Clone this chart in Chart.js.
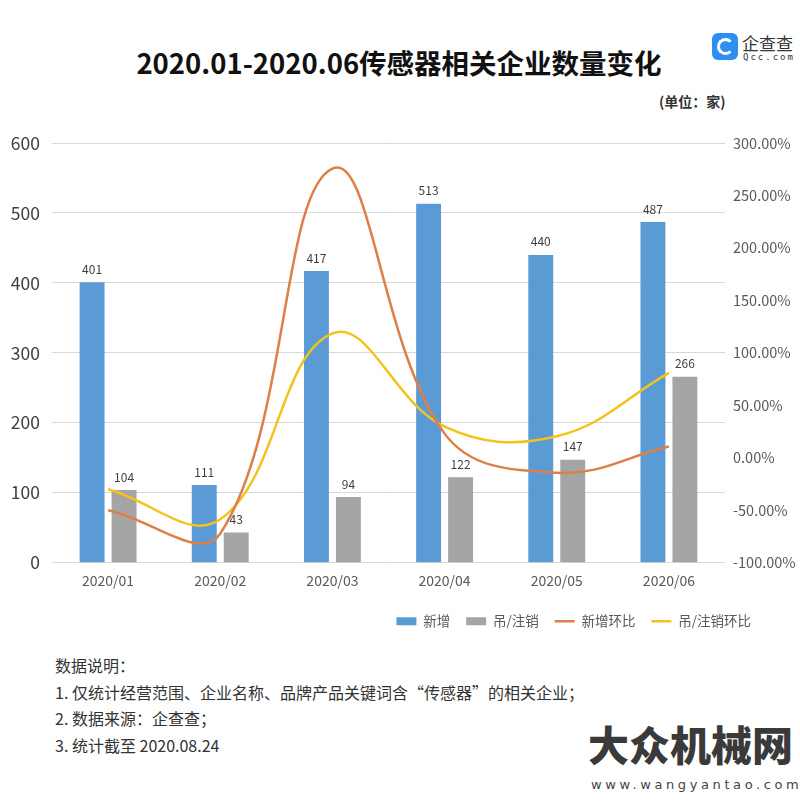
<!DOCTYPE html>
<html>
<head>
<meta charset="utf-8">
<script src="https://cdn.jsdelivr.net/npm/chart.js@4"></script>
<style>
  body { margin: 0; background: #fff; font-family: "Noto Sans CJK SC", "Noto Sans", sans-serif; }
  #page { position: relative; width: 800px; height: 804px; overflow: hidden; background: #fff; }
  #title { position: absolute; top: 44px; left: 0; width: 798px; text-align: center;
           font-size: 27.5px; font-weight: 700; color: #111; line-height: 36px; }
  #unit { position: absolute; top: 91px; left: 659px; font-size: 14px; font-weight: 700; color: #333; }
  #logo { position: absolute; top: 33px; left: 712px; }
  #logo .icon { position: absolute; left: 0; top: 0; width: 26px; height: 27px; border-radius: 6px; background: #2f8ff0; }
  #logo .ring { position: absolute; left: 5px; top: 5px; width: 11px; height: 11px; border-radius: 50%;
                border: 3px solid #fff; border-right-color: transparent; }
  #logo .cn { position: absolute; left: 30px; top: -3px; font-size: 17px; color: #333; white-space: nowrap; }
  #logo .en { position: absolute; left: 31px; top: 19px; font-size: 9px; color: #333; letter-spacing: 2px; font-family: "DejaVu Sans Mono", monospace; }
  #chartBox { position: absolute; left: 0; top: 120px; width: 800px; height: 522px; }
  #notes { position: absolute; left: 55px; top: 652px; font-size: 16px; line-height: 26.7px; color: #333; }
  #mark { position: absolute; left: 588px; top: 718px; font-size: 41px; font-weight: 900; color: #3a3a3a; line-height: 50px; white-space: nowrap; }
  #site { position: absolute; left: 591px; top: 777px; font-size: 13px; color: #444; letter-spacing: 3.6px; font-family: "DejaVu Sans", sans-serif; }
</style>
</head>
<body>
<div id="page">
  <div id="title">2020.01-2020.06传感器相关企业数量变化</div>
  <div id="logo"><div class="icon"><div class="ring"></div></div><div class="cn">企查查</div><div class="en">Qcc.com</div></div>
  <div id="unit">(单位：家)</div>
  <div id="chartBox"><canvas id="chartQty"></canvas></div>
  <div id="notes">
    数据说明：<br>
    1. 仅统计经营范围、企业名称、品牌产品关键词含“传感器”的相关企业；<br>
    2. 数据来源：企查查；<br>
    3. 统计截至 2020.08.24
  </div>
  <div id="mark">大众机械网</div>
  <div id="site">www.wangyantao.com</div>
</div>

<script>
const MONTHS = ['2020/01', '2020/02', '2020/03', '2020/04', '2020/05', '2020/06'];
const NEW_COUNT = [401, 111, 417, 513, 440, 487];
const CANCEL_COUNT = [104, 43, 94, 122, 147, 266];
const NEW_RATE = [-50, -72.32, 275.68, 23.02, -14.23, 10.68];
const CANCEL_RATE = [-30, -58.65, 118.6, 29.79, 20.49, 80.95];

const FONT = '"Noto Sans CJK SC", "Noto Sans", sans-serif';

// value labels above the bars
const barLabels = {
  id: 'barLabels',
  afterDatasetsDraw(chart) {
    const ctx = chart.ctx;
    ctx.save();
    ctx.font = '12px ' + FONT;
    ctx.fillStyle = '#404040';
    ctx.textAlign = 'center';
    ctx.textBaseline = 'middle';
    chart.data.datasets.forEach((ds, i) => {
      if (ds.type !== 'bar') return;
      chart.getDatasetMeta(i).data.forEach((bar, j) => {
        ctx.fillText(ds.data[j], bar.x, bar.y - 13);
      });
    });
    ctx.restore();
  }
};

// pull the legend in a little from the right edge
const legendShift = {
  id: 'legendShift',
  afterLayout(chart) {
    if (chart.legend) chart.legend.right -= 30;
  }
};

new Chart(document.getElementById('chartQty'), {
  data: {
    labels: MONTHS,
    datasets: [
      {
        type: 'bar',
        label: '新增',
        data: NEW_COUNT,
        backgroundColor: '#5b9bd5',
        yAxisID: 'y',
        order: 2,
        categoryPercentage: 0.57,
        barPercentage: 0.78
      },
      {
        type: 'bar',
        label: '吊/注销',
        data: CANCEL_COUNT,
        backgroundColor: '#a5a5a5',
        yAxisID: 'y',
        order: 2,
        categoryPercentage: 0.57,
        barPercentage: 0.78
      },
      {
        type: 'line',
        label: '新增环比',
        data: NEW_RATE,
        borderColor: '#dd8046',
        backgroundColor: '#dd8046',
        borderWidth: 2.5,
        pointRadius: 0,
        tension: 0.4,
        yAxisID: 'y1',
        order: 1
      },
      {
        type: 'line',
        label: '吊/注销环比',
        data: CANCEL_RATE,
        borderColor: '#f3c31c',
        backgroundColor: '#f3c31c',
        borderWidth: 2.5,
        pointRadius: 0,
        tension: 0.4,
        yAxisID: 'y1',
        order: 1
      }
    ]
  },
  options: {
    responsive: true,
    maintainAspectRatio: false,
    animation: false,
    layout: { padding: { left: 0, right: 3, top: 23, bottom: 4 } },
    plugins: {
      title: { display: false },
      tooltip: { enabled: false },
      legend: {
        position: 'bottom',
        align: 'end',
        labels: {
          color: '#595959',
          font: { family: FONT, size: 13.5 },
          usePointStyle: true,
          pointStyleWidth: 20,
          boxHeight: 8,
          padding: 16,
          sort: (a, b) => a.datasetIndex - b.datasetIndex,
          generateLabels: (chart) =>
            Chart.defaults.plugins.legend.labels.generateLabels(chart).map((l) => ({
              ...l,
              pointStyle: chart.data.datasets[l.datasetIndex].type === 'bar' ? 'rect' : 'line',
              lineWidth: chart.data.datasets[l.datasetIndex].type === 'bar' ? 0 : 2.5
            }))
        }
      }
    },
    scales: {
      x: {
        grid: { display: false },
        border: { display: false },
        ticks: { color: '#595959', font: { family: FONT, size: 14 }, padding: 2 },
        afterFit: (scale) => { scale.height += 7; }
      },
      y: {
        position: 'left',
        min: 0,
        max: 600,
        grid: { color: '#d9d9d9', drawTicks: false },
        border: { display: false },
        ticks: { stepSize: 100, color: '#404040', font: { family: FONT, size: 17.5 }, padding: 12 },
        afterFit: (scale) => { scale.width = 52; }
      },
      y1: {
        position: 'right',
        min: -100,
        max: 300,
        grid: { display: false, drawTicks: false },
        border: { display: false },
        ticks: {
          stepSize: 50,
          color: '#595959',
          font: { family: FONT, size: 14.5 },
          padding: 8,
          callback: (v) => v.toFixed(2) + '%'
        },
        afterFit: (scale) => { scale.width = 72; }
      }
    }
  },
  plugins: [barLabels, legendShift]
});
</script>
</body>
</html>
